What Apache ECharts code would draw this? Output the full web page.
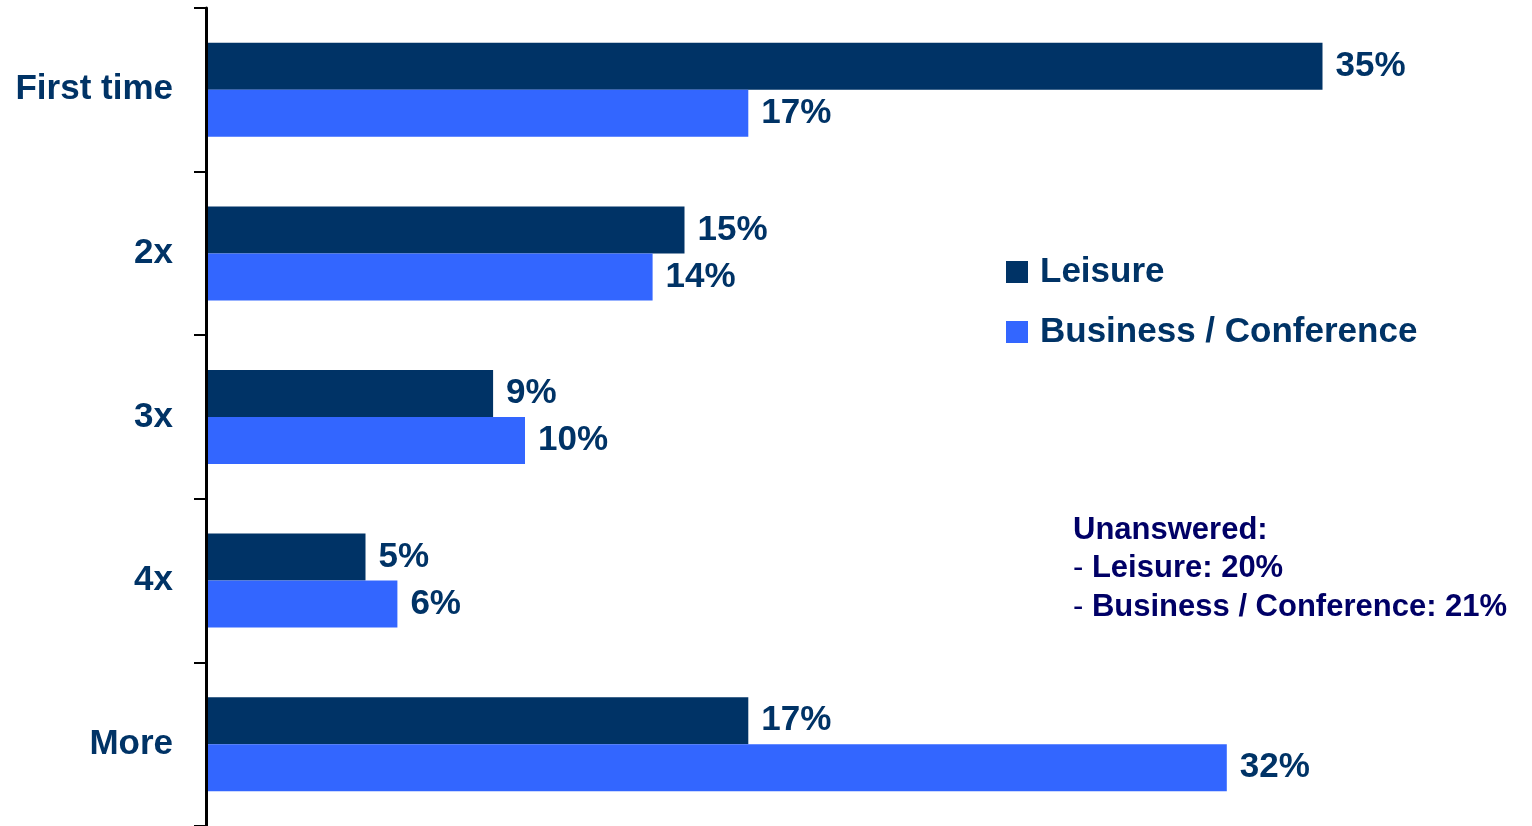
<!DOCTYPE html>
<html>
<head>
<meta charset="utf-8">
<script src="https://cdn.jsdelivr.net/npm/echarts@6/dist/echarts.min.js"></script>
<style>
  html, body { margin: 0; padding: 0; background: #fff; }
  #chart { width: 1532px; height: 826px; }
</style>
</head>
<body>
<div id="chart"></div>
<script>
// Number of visits, share of respondents by trip purpose
const categories = ['First time', '2x', '3x', '4x', 'More'];
const leisure = [35, 15, 9, 5, 17];
const business = [17, 14, 10, 6, 32];
const seriesNames = ['Leisure', 'Business / Conference'];
const unanswered = [['Leisure', 20], ['Business / Conference', 21]];

const FONT = '"Liberation Sans", Arial, sans-serif';
const NAVY = '#003366';
const BLUE = '#3366FF';
const NOTE = '#000066';

const chart = echarts.init(document.getElementById('chart'), null, { renderer: 'canvas' });

const labelStyle = {
  show: true,
  position: 'right',
  distance: 13,
  color: NAVY,
  fontFamily: FONT,
  fontWeight: 'bold',
  fontSize: 35,
  formatter: p => p.value + '%'
};

const noteLines = ['{h|Unanswered:}'].concat(
  unanswered.map(([name, v]) => '{d|- }{b|' + name + ': ' + v + '%}')
);
const noteRich = (weight) => ({
  fill: NOTE, fontFamily: FONT, fontWeight: weight, fontSize: 31, lineHeight: 38.5
});

chart.setOption({
  animation: false,
  backgroundColor: '#ffffff',
  grid: { left: 206, right: 50, top: 8, bottom: 0, containLabel: false },
  xAxis: {
    type: 'value',
    min: 0,
    max: 40,
    show: false
  },
  yAxis: {
    type: 'category',
    data: categories,
    inverse: true,
    z: 5,
    axisLine: { show: true, lineStyle: { color: '#000', width: 3 } },
    axisTick: { show: true, length: 12, lineStyle: { color: '#000', width: 2 } },
    axisLabel: {
      margin: 33,
      color: NAVY,
      fontFamily: FONT,
      fontWeight: 'bold',
      fontSize: 35
    },
    splitLine: { show: false }
  },
  legend: {
    orient: 'vertical',
    left: 1001,
    top: 247,
    icon: 'rect',
    itemWidth: 22,
    itemHeight: 22,
    itemGap: 20,
    data: seriesNames,
    textStyle: {
      color: NAVY,
      fontFamily: FONT,
      fontWeight: 'bold',
      fontSize: 35,
      lineHeight: 40,
      padding: [0, 0, 0, 7]
    }
  },
  graphic: [{
    type: 'text',
    left: 1073,
    top: 511,
    style: {
      text: noteLines.join('\n'),
      fill: NOTE,
      font: 'bold 31px ' + FONT,
      lineHeight: 38.5,
      rich: {
        h: noteRich('bold'),
        d: noteRich('normal'),
        b: noteRich('bold')
      }
    }
  }],
  series: [
    {
      name: seriesNames[0],
      type: 'bar',
      data: leisure,
      barWidth: 47,
      barGap: '0%',
      itemStyle: { color: NAVY },
      label: labelStyle
    },
    {
      name: seriesNames[1],
      type: 'bar',
      data: business,
      barWidth: 47,
      barGap: '0%',
      itemStyle: { color: BLUE },
      label: labelStyle
    }
  ]
});
</script>
</body>
</html>
